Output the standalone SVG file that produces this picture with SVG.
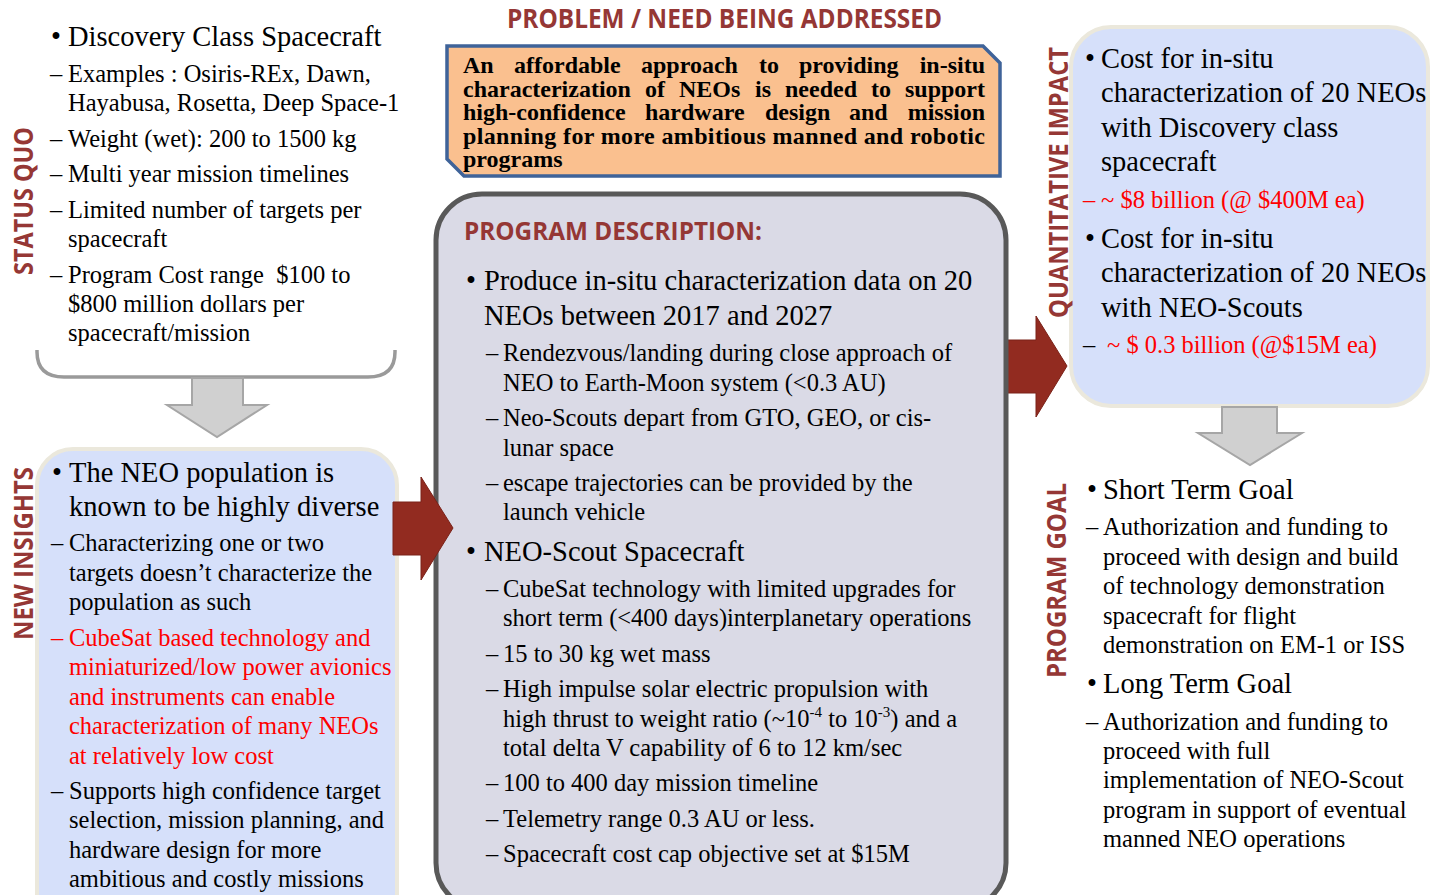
<svg xmlns="http://www.w3.org/2000/svg" width="1432" height="895" viewBox="0 0 1432 895">
<defs>
<style>
.t{font-family:"Liberation Serif","Times New Roman",serif;fill:#000}
.b{font-size:28.5px}
.s{font-size:24.5px}
.r{fill:#ff0000}
.lab{font-family:"Open Sans","Liberation Sans",sans-serif;font-weight:bold;fill:#953735}
.garrow{fill:#d0d0d0;stroke:#a6a6a6;stroke-width:2}
.rarrow{fill:#922b20;stroke:#7a2219;stroke-width:1}
</style>
</defs>
<rect width="1432" height="895" fill="#ffffff"/>

<g id="connectors">
<path class="rarrow" d="M990,340 L1036,340 L1036,316 L1067,366 L1036,417 L1036,393 L990,393 Z"/>
</g>

<g id="status-quo">
<path d="M37,350 V352 Q37,377 64,377 H368 Q395,377 395,352 V350" fill="none" stroke="#9a9a9a" stroke-width="3.5"/>
<text class="lab" font-size="27" transform="translate(33,201) rotate(-90)" x="-74" y="0" textLength="148" lengthAdjust="spacingAndGlyphs">STATUS QUO</text>
<text class="t b" x="51" y="46">•</text>
<text class="t b" x="68" y="46">Discovery Class Spacecraft</text>
<g class="t s">
<text x="50" y="82">–</text><text x="68" y="82">Examples : Osiris-REx, Dawn,</text>
<text x="68" y="111">Hayabusa, Rosetta, Deep Space-1</text>
<text x="50" y="147">–</text><text x="68" y="147">Weight (wet): 200 to 1500 kg</text>
<text x="50" y="182">–</text><text x="68" y="182">Multi year mission timelines</text>
<text x="50" y="218">–</text><text x="68" y="218">Limited number of targets per</text>
<text x="68" y="247">spacecraft</text>
<text x="50" y="283">–</text><text x="68" y="283" xml:space="preserve">Program Cost range  $100 to</text>
<text x="68" y="312">$800 million dollars per</text>
<text x="68" y="341">spacecraft/mission</text>
</g>
</g>

<g id="arrow-down-1">
<path class="garrow" d="M192,378 H243 V405 H267 L217,437 L167,405 H192 Z"/>
</g>

<g id="new-insights">
<rect x="37" y="449" width="360" height="500" rx="36" fill="#d6e0fa" stroke="#ebe8dc" stroke-width="4"/>
<text class="lab" font-size="27" transform="translate(33,553.5) rotate(-90)" x="-86.5" y="0" textLength="173" lengthAdjust="spacingAndGlyphs">NEW INSIGHTS</text>
<text class="t b" x="52" y="482">•</text>
<text class="t b" x="69" y="482">The NEO population is</text>
<text class="t b" x="69" y="516">known to be highly diverse</text>
<g class="t s">
<text x="51" y="551">–</text><text x="69" y="551">Characterizing one or two</text>
<text x="69" y="581">targets doesn’t characterize the</text>
<text x="69" y="610">population as such</text>
<text class="r" x="51" y="646">–</text><text class="r" x="69" y="646">CubeSat based technology and</text>
<text class="r" x="69" y="675">miniaturized/low power avionics</text>
<text class="r" x="69" y="705">and instruments can enable</text>
<text class="r" x="69" y="734">characterization of many NEOs</text>
<text class="r" x="69" y="764">at relatively low cost</text>
<text x="51" y="799">–</text><text x="69" y="799">Supports high confidence target</text>
<text x="69" y="828">selection, mission planning, and</text>
<text x="69" y="858">hardware design for more</text>
<text x="69" y="887">ambitious and costly missions</text>
</g>
</g>

<g id="problem">
<text class="lab" font-size="26" x="507" y="28" textLength="435" lengthAdjust="spacingAndGlyphs">PROBLEM / NEED BEING ADDRESSED</text>
<path d="M447,46 H983 L1000,63 V176 H464 L447,159 Z" fill="#fac08f" stroke="#3f6399" stroke-width="3.5"/>
<g font-family="Liberation Serif,Times New Roman,serif" font-weight="bold" font-size="24" fill="#000">
<text y="73"><tspan x="463">An</tspan><tspan x="514">affordable</tspan><tspan x="641">approach</tspan><tspan x="759">to</tspan><tspan x="799">providing</tspan><tspan x="985" text-anchor="end">in-situ</tspan></text>
<text y="96.5"><tspan x="463">characterization</tspan><tspan x="645">of</tspan><tspan x="679">NEOs</tspan><tspan x="755">is</tspan><tspan x="785">needed</tspan><tspan x="871">to</tspan><tspan x="985" text-anchor="end">support</tspan></text>
<text y="120"><tspan x="463">high-confidence</tspan><tspan x="645">hardware</tspan><tspan x="765">design</tspan><tspan x="849">and</tspan><tspan x="985" text-anchor="end">mission</tspan></text>
<text x="463" y="143.5" textLength="522" lengthAdjust="spacing">planning for more ambitious manned and robotic</text>
<text x="463" y="167">programs</text>
</g>
</g>

<g id="program-description">
<rect x="436" y="194" width="570" height="715" rx="46" fill="#dadae6" stroke="#595959" stroke-width="5"/>
<text class="lab" font-size="25" x="464" y="240" textLength="298" lengthAdjust="spacingAndGlyphs">PROGRAM DESCRIPTION:</text>
<text class="t b" x="466" y="290">•</text>
<text class="t b" x="484" y="290">Produce in-situ characterization data on 20</text>
<text class="t b" x="484" y="325">NEOs between 2017 and 2027</text>
<g class="t s">
<text x="486" y="361">–</text><text x="503" y="361">Rendezvous/landing during close approach of</text>
<text x="503" y="391">NEO to Earth-Moon system (&lt;0.3 AU)</text>
<text x="486" y="426">–</text><text x="503" y="426">Neo-Scouts depart from GTO, GEO, or cis-</text>
<text x="503" y="456">lunar space</text>
<text x="486" y="491">–</text><text x="503" y="491">escape trajectories can be provided by the</text>
<text x="503" y="520">launch vehicle</text>
</g>
<text class="t b" x="466" y="561">•</text>
<text class="t b" x="484" y="561">NEO-Scout Spacecraft</text>
<g class="t s">
<text x="486" y="597">–</text><text x="503" y="597">CubeSat technology with limited upgrades for</text>
<text x="503" y="626">short term (&lt;400 days)interplanetary operations</text>
<text x="486" y="662">–</text><text x="503" y="662">15 to 30 kg wet mass</text>
<text x="486" y="697">–</text><text x="503" y="697">High impulse solar electric propulsion with</text>
<text x="503" y="727">high thrust to weight ratio (~10<tspan dy="-10" font-size="15">-4</tspan><tspan dy="10"> to 10</tspan><tspan dy="-10" font-size="15">-3</tspan><tspan dy="10">) and a</tspan></text>
<text x="503" y="756">total delta V capability of 6 to 12 km/sec</text>
<text x="486" y="791">–</text><text x="503" y="791">100 to 400 day mission timeline</text>
<text x="486" y="827">–</text><text x="503" y="827">Telemetry range 0.3 AU or less.</text>
<text x="486" y="862">–</text><text x="503" y="862">Spacecraft cost cap objective set at $15M</text>
</g>
</g>

<g id="connector-insights-program">
<path class="rarrow" d="M393,502 L421,502 L421,477 L453,528 L421,580 L421,555 L393,555 Z"/>
</g>

<g id="quantitative-impact">
<rect x="1071" y="27" width="357" height="379" rx="40" fill="#d6e0fa" stroke="#ebe8dc" stroke-width="4"/>
<text class="lab" font-size="27" transform="translate(1068,182.5) rotate(-90)" x="-135.5" y="0" textLength="271" lengthAdjust="spacingAndGlyphs">QUANTITATIVE IMPACT</text>
<text class="t b" x="1085" y="68">•</text>
<text class="t b" x="1101" y="68">Cost for in-situ</text>
<text class="t b" x="1101" y="102">characterization of 20 NEOs</text>
<text class="t b" x="1101" y="137">with Discovery class</text>
<text class="t b" x="1101" y="171">spacecraft</text>
<text class="t s r" x="1083" y="208">–</text><text class="t s r" x="1101" y="208">~ $8 billion (@ $400M ea)</text>
<text class="t b" x="1085" y="248">•</text>
<text class="t b" x="1101" y="248">Cost for in-situ</text>
<text class="t b" x="1101" y="282">characterization of 20 NEOs</text>
<text class="t b" x="1101" y="317">with NEO-Scouts</text>
<text class="t s" x="1083" y="353">–</text><text class="t s r" x="1107" y="353">~ $ 0.3 billion (@$15M ea)</text>
</g>

<g id="arrow-down-2">
<path class="garrow" d="M1222,407 H1277 V433 H1302 L1250,465 L1198,433 H1222 Z"/>
</g>

<g id="program-goal">
<text class="lab" font-size="27" transform="translate(1066,580.5) rotate(-90)" x="-97.5" y="0" textLength="195" lengthAdjust="spacingAndGlyphs">PROGRAM GOAL</text>
<text class="t b" x="1087" y="499">•</text>
<text class="t b" x="1103" y="499">Short Term Goal</text>
<g class="t s">
<text x="1086" y="535">–</text><text x="1103" y="535">Authorization and funding to</text>
<text x="1103" y="565">proceed with design and build</text>
<text x="1103" y="594">of technology demonstration</text>
<text x="1103" y="624">spacecraft for flight</text>
<text x="1103" y="653">demonstration on EM-1 or ISS</text>
</g>
<text class="t b" x="1087" y="693">•</text>
<text class="t b" x="1103" y="693">Long Term Goal</text>
<g class="t s">
<text x="1086" y="730">–</text><text x="1103" y="730">Authorization and funding to</text>
<text x="1103" y="759">proceed with full</text>
<text x="1103" y="788">implementation of NEO-Scout</text>
<text x="1103" y="818">program in support of eventual</text>
<text x="1103" y="847">manned NEO operations</text>
</g>
</g>
</svg>
